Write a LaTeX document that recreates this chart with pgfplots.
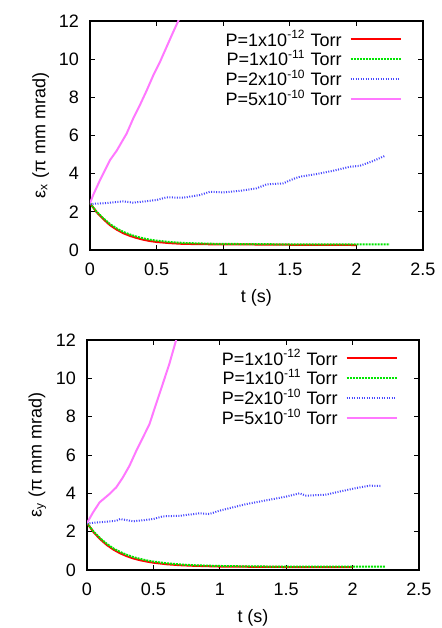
\documentclass[border=0pt]{standalone}
\usepackage{fontspec}
\setmainfont{Liberation Sans}
\usepackage{pgfplots}
\pgfplotsset{compat=1.18}

\definecolor{gpred}{RGB}{255,0,0}
\definecolor{gpgreen}{RGB}{0,230,0}
\definecolor{gpblue}{RGB}{70,70,255}
\definecolor{gppink}{RGB}{255,120,255}

\pgfplotsset{
  emitt/.style={
    scale only axis,
    anchor=south west,
    xmin=0, xmax=2.5, ymin=0, ymax=12,
    xtick={0,0.5,1,1.5,2,2.5},
    ytick={0,2,4,6,8,10,12},
    xticklabels={0,0.5,1,1.5,2,2.5},
    font=\fontsize{9}{10.5}\selectfont,
    /pgf/number format/assume math mode=true,
    major tick length=2.5pt,
    tick style={black, line width=0.5pt},
    axis line style={line width=0.6pt},
    xlabel={t (s)},
    xticklabel style={yshift=-3pt},
    yticklabel style={xshift=-2pt},
    xlabel style={yshift=0pt},
    ylabel style={yshift=-2pt},
    legend cell align=right,
    legend plot pos=right,
    legend style={draw=none, fill=none, at={(rel axis cs:0.955,0.993)}, anchor=north east,
      row sep=-2.5pt, column sep=2.5pt, nodes={inner sep=1.5pt}},
    legend image code/.code={\draw[#1] (0pt,0.25pt) -- (25pt,0.25pt);},
  },
  sred/.style={gpred, line width=1pt},
  sgreen/.style={gpgreen, line width=1pt, dash pattern=on 1pt off 0.5pt},
  sblue/.style={gpblue, line width=1pt, dash pattern=on 0.5pt off 0.75pt},
  spink/.style={gppink, line width=1pt},
}

\begin{document}
\begin{tikzpicture}
\useasboundingbox (0,0) rectangle (220.5pt,314pt);

% top: horizontal emittance
\begin{axis}[emitt, at={(45pt,189pt)}, width=166.5pt, height=114.5pt,
  ylabel={ε\textsubscript{x} (π mm mrad)}]
\addplot[sred] coordinates {
 (0,2.45)(0.05,1.98)(0.1,1.62)(0.15,1.30)(0.2,1.07)(0.25,0.88)(0.3,0.74)(0.35,0.63)
 (0.4,0.54)(0.45,0.47)(0.5,0.42)(0.6,0.36)(0.7,0.32)(0.8,0.31)(0.9,0.30)(1.0,0.30)
 (1.2,0.29)(1.4,0.28)(1.6,0.27)(1.8,0.27)(2.0,0.26)};
\addlegendentry{P=1x10\textsuperscript{-12} Torr}
\addplot[sgreen] coordinates {
 (0,2.45)(0.05,2.0)(0.1,1.66)(0.15,1.36)(0.2,1.13)(0.25,0.95)(0.3,0.81)(0.35,0.70)
 (0.4,0.61)(0.45,0.54)(0.5,0.49)(0.6,0.42)(0.7,0.37)(0.8,0.35)(0.9,0.33)(1.0,0.32)
 (1.2,0.31)(1.4,0.30)(1.6,0.30)(1.8,0.30)(2.0,0.30)(2.25,0.30)};
\addlegendentry{P=1x10\textsuperscript{-11} Torr}
\addplot[sblue] coordinates {
 (0,2.41)(0.1,2.45)(0.25,2.55)(0.325,2.48)(0.4,2.54)(0.5,2.62)(0.575,2.76)(0.7,2.74)
 (0.825,2.88)(0.9,3.05)(1.0,3.02)(1.125,3.10)(1.25,3.23)(1.325,3.44)(1.45,3.49)
 (1.525,3.72)(1.575,3.84)(1.7,3.98)(1.825,4.15)(1.95,4.36)(2.025,4.41)(2.125,4.66)(2.21,4.92)};
\addlegendentry{P=2x10\textsuperscript{-10} Torr}
\addplot[spink] coordinates {
 (0,2.45)(0.025,2.9)(0.075,3.66)(0.15,4.71)(0.2,5.2)(0.275,6.1)(0.325,6.9)(0.375,7.6)
 (0.425,8.35)(0.475,9.15)(0.525,9.85)(0.575,10.64)(0.625,11.43)(0.6625,12.0)(0.7,12.6)};
\addlegendentry{P=5x10\textsuperscript{-10} Torr}
\end{axis}

% bottom: vertical emittance
\begin{axis}[emitt, at={(43.5pt,29pt)}, width=166pt, height=115pt,
  ylabel={ε\textsubscript{y} (π mm mrad)}]
\addplot[sred] coordinates {
 (0,2.45)(0.05,1.97)(0.1,1.60)(0.15,1.30)(0.2,1.06)(0.25,0.87)(0.3,0.72)(0.35,0.60)
 (0.4,0.51)(0.45,0.44)(0.5,0.38)(0.6,0.30)(0.7,0.25)(0.8,0.22)(0.9,0.20)(1.0,0.18)
 (1.2,0.17)(1.4,0.16)(1.6,0.15)(1.8,0.15)(2.0,0.15)};
\addlegendentry{P=1x10\textsuperscript{-12} Torr}
\addplot[sgreen] coordinates {
 (0,2.45)(0.05,2.0)(0.1,1.65)(0.15,1.36)(0.2,1.12)(0.25,0.94)(0.3,0.79)(0.35,0.67)
 (0.4,0.58)(0.45,0.50)(0.5,0.44)(0.6,0.35)(0.7,0.29)(0.8,0.25)(0.9,0.23)(1.0,0.21)
 (1.2,0.19)(1.4,0.18)(1.6,0.17)(1.8,0.17)(2.0,0.17)(2.25,0.17)};
\addlegendentry{P=1x10\textsuperscript{-11} Torr}
\addplot[sblue] coordinates {
 (0,2.43)(0.095,2.49)(0.22,2.57)(0.25,2.66)(0.35,2.54)(0.5,2.66)(0.57,2.80)(0.7,2.83)
 (0.85,2.96)(0.92,2.92)(1.0,3.10)(1.1,3.27)(1.2,3.44)(1.3,3.57)(1.4,3.70)(1.5,3.83)
 (1.6,4.00)(1.65,3.88)(1.8,3.93)(1.9,4.09)(2.03,4.28)(2.13,4.40)(2.22,4.38)};
\addlegendentry{P=2x10\textsuperscript{-10} Torr}
\addplot[spink] coordinates {
 (0,2.45)(0.045,3.0)(0.095,3.53)(0.17,3.97)(0.22,4.31)(0.27,4.83)(0.32,5.44)(0.37,6.2)
 (0.42,6.9)(0.47,7.6)(0.52,8.66)(0.57,9.7)(0.62,10.75)(0.67,11.97)(0.7,12.6)};
\addlegendentry{P=5x10\textsuperscript{-10} Torr}
\end{axis}
\end{tikzpicture}
\end{document}
